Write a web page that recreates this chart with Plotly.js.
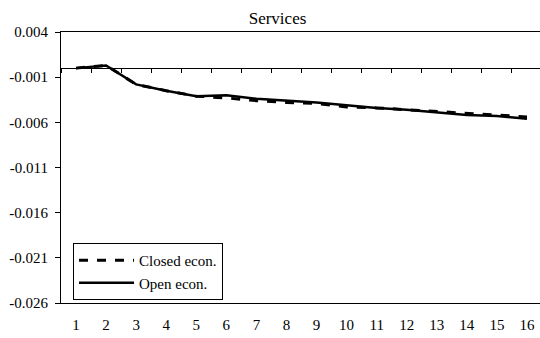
<!DOCTYPE html>
<html>
<head>
<meta charset="utf-8">
<script src="https://cdn.plot.ly/plotly-3.0.1.min.js"></script>
<style>html,body{margin:0;padding:0;overflow:hidden;background:#fff;}</style>
</head>
<body>
<div id="chart" style="width:542px;height:338px;"></div>
<script>
const periods = [1,2,3,4,5,6,7,8,9,10,11,12,13,14,15,16];
const closedEcon = [0.0000,0.0003,-0.0018,-0.0025,-0.0031,-0.0033,-0.0036,-0.0038,-0.0039,-0.0043,-0.0044,-0.0046,-0.0048,-0.0050,-0.0052,-0.0054];
const openEcon   = [0.0000,0.0003,-0.0018,-0.0025,-0.0031,-0.0030,-0.0034,-0.0036,-0.0038,-0.0041,-0.0044,-0.0046,-0.0049,-0.0052,-0.0053,-0.0056];
const seriesNames = ["Closed econ.","Open econ."];
const yTicks = [0.004,-0.001,-0.006,-0.011,-0.016,-0.021,-0.026];
const boundaryTicks = [0.5,1.5,2.5,3.5,4.5,5.5,6.5,7.5,8.5,9.5,10.5,11.5,12.5,13.5,14.5,15.5,16.5];

const family = "Liberation Serif, Times New Roman, serif";
const tickFont = {family: family, size: 15, color: "#000"};

const traces = [
  {x: periods, y: closedEcon, name: seriesNames[0], type: "scatter", mode: "lines",
   line: {color: "#000", width: 3, dash: "dash"}, xaxis: "x", yaxis: "y"},
  {x: periods, y: openEcon, name: seriesNames[1], type: "scatter", mode: "lines",
   line: {color: "#000", width: 2.5}, xaxis: "x2", yaxis: "y"}
];

const layout = {
  width: 542, height: 338,
  margin: {l: 61, r: 0, t: 32, b: 35},
  paper_bgcolor: "#fff", plot_bgcolor: "#fff",
  font: tickFont,
  title: {text: "Services", font: {family: family, size: 17, color: "#000"}, xref: "container", x: 0.512, xanchor: "center",
          yref: "container", y: 0.947, yanchor: "middle"},
  showlegend: true,
  legend: {x: 0.025, y: 0.221, xanchor: "left", yanchor: "top", bordercolor: "#000", borderwidth: 1,
           bgcolor: "#fff", font: {family: family, size: 15, color: "#000"}, itemwidth: 55, tracegroupgap: 0},
  xaxis: {range: [0.5, 16.5], tickvals: periods, ticktext: periods.map(String), showgrid: false, zeroline: false,
          showline: true, linecolor: "#000", linewidth: 1, mirror: true,
          ticks: "outside", ticklen: 8, tickcolor: "rgba(0,0,0,0)", tickfont: tickFont},
  xaxis2: {range: [0.5, 16.5], overlaying: "x", anchor: "free", position: 0.8667, side: "bottom",
           tickvals: boundaryTicks, showticklabels: false, showgrid: false, zeroline: false,
           showline: true, linecolor: "#000", linewidth: 1, ticks: "outside", ticklen: 4, tickcolor: "#000"},
  yaxis: {range: [-0.026, 0.004], tickvals: yTicks, ticktext: yTicks.map(v => v.toFixed(3)),
          showgrid: false, zeroline: false, showline: true, linecolor: "#000", linewidth: 1, mirror: true,
          ticks: "outside", ticklen: 5, tickcolor: "#000", tickfont: tickFont, ticklabelstandoff: 4}
};

Plotly.newPlot("chart", traces, layout, {displayModeBar: false, staticPlot: true});
</script>
</body>
</html>
